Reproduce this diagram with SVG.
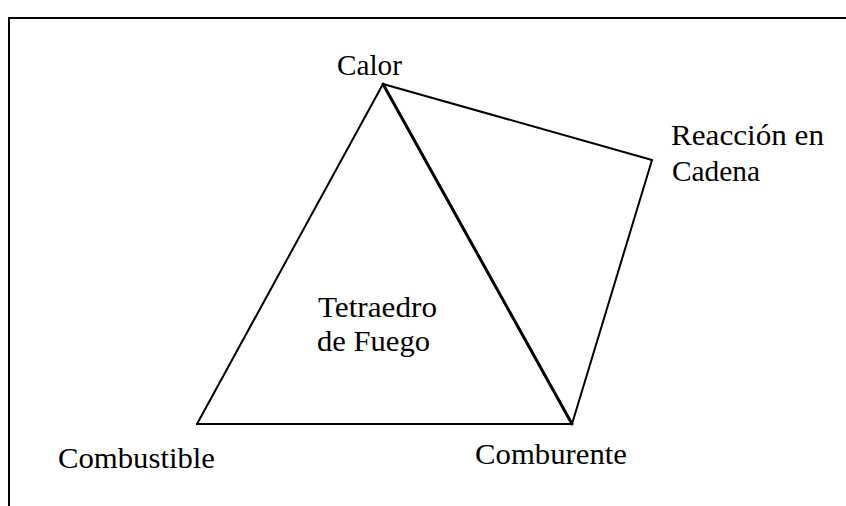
<svg xmlns="http://www.w3.org/2000/svg" width="846" height="506" viewBox="0 0 846 506">
<style>
text{font-family:"Liberation Serif","DejaVu Serif","Times New Roman",serif;font-size:29px;fill:#000}
.edge{stroke:#000;stroke-width:2;fill:none;stroke-linecap:round}
</style>
<rect x="0" y="0" width="846" height="506" fill="#fff"/>
<path d="M9 506 V18 H846" fill="none" stroke="#000" stroke-width="2"/>
<g id="connectors">
<line class="edge" x1="383" y1="84" x2="197" y2="424"/>
<line class="edge" x1="197" y1="424" x2="572" y2="424"/>
<line class="edge" x1="383" y1="84" x2="572" y2="424" style="stroke-width:3"/>
<line class="edge" x1="383" y1="84" x2="652" y2="160"/>
<line class="edge" x1="652" y1="160" x2="572" y2="424"/>
</g>
<g id="calor"><text x="337" y="75" textLength="65" lengthAdjust="spacingAndGlyphs">Calor</text></g>
<g id="reaccion"><text x="671" y="145" textLength="153" lengthAdjust="spacingAndGlyphs">Reacción en</text>
<text x="672" y="181" textLength="88" lengthAdjust="spacingAndGlyphs">Cadena</text></g>
<g id="tetraedro"><text x="318" y="317" textLength="119" lengthAdjust="spacingAndGlyphs">Tetraedro</text>
<text x="317" y="351" textLength="113" lengthAdjust="spacingAndGlyphs">de Fuego</text></g>
<g id="combustible"><text x="58" y="468" textLength="157" lengthAdjust="spacingAndGlyphs">Combustible</text></g>
<g id="comburente"><text x="475" y="464" textLength="152" lengthAdjust="spacingAndGlyphs">Comburente</text></g>
</svg>
